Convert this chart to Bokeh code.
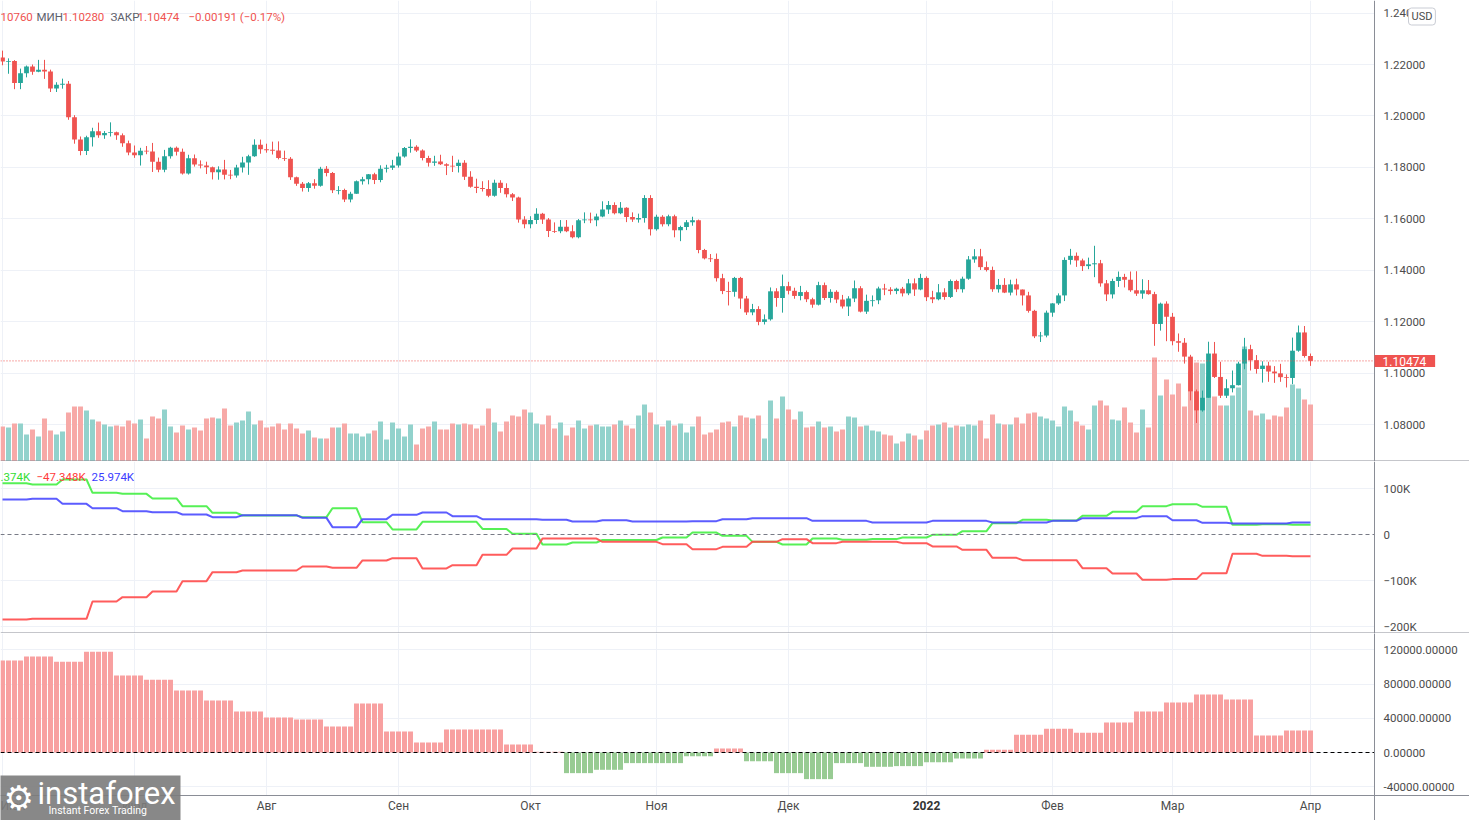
from bokeh.plotting import figure
from bokeh.layouts import column
from bokeh.models import Range1d, FixedTicker, Span, Label, BoxAnnotation
from bokeh.embed import file_html
from bokeh.resources import INLINE

# ---------------- DATA (daily EURUSD, 2021-06-01 .. 2022-04-01) ----------------
first_open = 1.2227
closes = [
1.2212, 1.2214, 1.2128, 1.2166, 1.2192, 1.2172, 1.2180, 1.2173, 1.2107, 1.2121,
1.2125, 1.1995, 1.1908, 1.1864, 1.1917, 1.1940, 1.1925, 1.1934, 1.1937, 1.1925,
1.1894, 1.1858, 1.1847, 1.1865, 1.1862, 1.1822, 1.1791, 1.1843, 1.1876, 1.1861,
1.1776, 1.1835, 1.1811, 1.1807, 1.1800, 1.1781, 1.1792, 1.1771, 1.1768, 1.1799,
1.1819, 1.1843, 1.1888, 1.1870, 1.1868, 1.1866, 1.1836, 1.1833, 1.1762, 1.1736,
1.1720, 1.1738, 1.1728, 1.1795, 1.1778, 1.1711, 1.1712, 1.1675, 1.1697, 1.1746,
1.1754, 1.1773, 1.1751, 1.1795, 1.1798, 1.1807, 1.1842, 1.1875, 1.1880, 1.1866,
1.1836, 1.1818, 1.1823, 1.1812, 1.1806, 1.1805, 1.1818, 1.1763, 1.1725, 1.1720,
1.1716, 1.1690, 1.1740, 1.1720, 1.1695, 1.1683, 1.1597, 1.1579, 1.1595, 1.1620,
1.1597, 1.1553, 1.1552, 1.1569, 1.1552, 1.1528, 1.1594, 1.1597, 1.1594, 1.1609,
1.1636, 1.1654, 1.1622, 1.1643, 1.1607, 1.1597, 1.1603, 1.1681, 1.1559, 1.1608,
1.1579, 1.1610, 1.1555, 1.1568, 1.1587, 1.1594, 1.1479, 1.1446, 1.1444, 1.1369,
1.1319, 1.1316, 1.1370, 1.1290, 1.1236, 1.1249, 1.1199, 1.1209, 1.1318, 1.1292,
1.1338, 1.1320, 1.1300, 1.1315, 1.1287, 1.1266, 1.1342, 1.1292, 1.1316, 1.1286,
1.1259, 1.1290, 1.1330, 1.1239, 1.1281, 1.1283, 1.1329, 1.1325, 1.1319, 1.1328,
1.1310, 1.1349, 1.1325, 1.1370, 1.1295, 1.1287, 1.1314, 1.1296, 1.1358, 1.1326,
1.1367, 1.1442, 1.1454, 1.1412, 1.1401, 1.1326, 1.1343, 1.1313, 1.1345, 1.1325,
1.1302, 1.1242, 1.1143, 1.1146, 1.1235, 1.1271, 1.1302, 1.1440, 1.1456, 1.1438,
1.1416, 1.1423, 1.1427, 1.1349, 1.1306, 1.1358, 1.1374, 1.1363, 1.1322, 1.1309,
1.1322, 1.1307, 1.1191, 1.1270, 1.1219, 1.1124, 1.1118, 1.1064, 1.0929, 1.0855,
1.0904, 1.1076, 1.0985, 1.0912, 1.0941, 1.0953, 1.1037, 1.1093, 1.1050, 1.1016,
1.1029, 1.1006, 1.0999, 1.0984, 1.0981, 1.1087, 1.1158, 1.10665, 1.10474]

highs = [
1.2254, 1.2224, 1.2217, 1.2184, 1.2196, 1.2200, 1.2218, 1.2218, 1.2180, 1.2131,
1.2145, 1.2136, 1.2003, 1.1920, 1.1923, 1.1954, 1.1974, 1.1941, 1.1975, 1.1939,
1.1932, 1.1904, 1.1885, 1.1876, 1.1883, 1.1895, 1.1838, 1.1868, 1.1880, 1.1881,
1.1873, 1.1849, 1.1850, 1.1827, 1.1822, 1.1803, 1.1804, 1.1829, 1.1790, 1.1810,
1.1841, 1.1849, 1.1909, 1.1908, 1.1892, 1.1900, 1.1901, 1.1865, 1.1840, 1.1764,
1.1743, 1.1743, 1.1754, 1.1802, 1.1805, 1.1782, 1.1727, 1.1717, 1.1705, 1.1749,
1.1763, 1.1774, 1.1779, 1.1808, 1.1810, 1.1829, 1.1857, 1.1879, 1.1909, 1.1886,
1.1870, 1.1845, 1.1845, 1.1849, 1.1816, 1.1845, 1.1830, 1.1828, 1.1785, 1.1756,
1.1746, 1.1750, 1.1752, 1.1750, 1.1738, 1.1700, 1.1686, 1.1610, 1.1610, 1.1641,
1.1623, 1.1603, 1.1586, 1.1595, 1.1595, 1.1575, 1.1599, 1.1625, 1.1624, 1.1620,
1.1668, 1.1669, 1.1664, 1.1665, 1.1645, 1.1625, 1.1620, 1.1692, 1.1692, 1.1616,
1.1614, 1.1616, 1.1616, 1.1573, 1.1595, 1.1608, 1.1597, 1.1483, 1.1463, 1.1465,
1.1386, 1.1355, 1.1374, 1.1374, 1.1300, 1.1269, 1.1260, 1.1228, 1.1333, 1.1330,
1.1383, 1.1355, 1.1332, 1.1339, 1.1321, 1.1293, 1.1355, 1.1352, 1.1326, 1.1322,
1.1304, 1.1299, 1.1360, 1.1338, 1.1305, 1.1302, 1.1336, 1.1347, 1.1334, 1.1332,
1.1335, 1.1366, 1.1368, 1.1386, 1.1376, 1.1320, 1.1346, 1.1330, 1.1364, 1.1363,
1.1375, 1.1455, 1.1482, 1.1483, 1.1434, 1.1414, 1.1366, 1.1369, 1.1363, 1.1367,
1.1325, 1.1316, 1.1246, 1.1160, 1.1243, 1.1272, 1.1310, 1.1450, 1.1483, 1.1469,
1.1445, 1.1449, 1.1495, 1.1440, 1.1362, 1.1367, 1.1395, 1.1386, 1.1395, 1.1396,
1.1365, 1.1362, 1.1316, 1.1274, 1.1279, 1.1234, 1.1154, 1.1136, 1.1071, 1.0936,
1.0932, 1.1122, 1.1121, 1.1044, 1.0976, 1.1010, 1.1044, 1.1137, 1.1110, 1.1070,
1.1046, 1.1044, 1.1027, 1.1036, 1.0995, 1.1138, 1.1185, 1.1183, 1.10760]

lows = [
1.2197, 1.2164, 1.2104, 1.2104, 1.2150, 1.2160, 1.2170, 1.2144, 1.2093, 1.2093,
1.2106, 1.1985, 1.1892, 1.1847, 1.1848, 1.1881, 1.1915, 1.1911, 1.1920, 1.1907,
1.1880, 1.1847, 1.1837, 1.1807, 1.1851, 1.1782, 1.1781, 1.1781, 1.1834, 1.1846,
1.1772, 1.1772, 1.1803, 1.1796, 1.1774, 1.1753, 1.1752, 1.1753, 1.1754, 1.1760,
1.1780, 1.1771, 1.1841, 1.1853, 1.1857, 1.1850, 1.1831, 1.1825, 1.1751, 1.1728,
1.1706, 1.1705, 1.1717, 1.1725, 1.1765, 1.1700, 1.1695, 1.1665, 1.1664, 1.1697,
1.1733, 1.1734, 1.1735, 1.1742, 1.1780, 1.1790, 1.1799, 1.1838, 1.1857, 1.1860,
1.1827, 1.1803, 1.1806, 1.1809, 1.1770, 1.1782, 1.1780, 1.1751, 1.1721, 1.1700,
1.1706, 1.1684, 1.1686, 1.1701, 1.1683, 1.1669, 1.1585, 1.1563, 1.1563, 1.1580,
1.1580, 1.1529, 1.1545, 1.1544, 1.1548, 1.1524, 1.1524, 1.1583, 1.1583, 1.1571,
1.1606, 1.1619, 1.1617, 1.1618, 1.1587, 1.1588, 1.1585, 1.1585, 1.1535, 1.1554,
1.1570, 1.1571, 1.1528, 1.1513, 1.1556, 1.1573, 1.1466, 1.1442, 1.1432, 1.1356,
1.1307, 1.1263, 1.1297, 1.1250, 1.1226, 1.1225, 1.1186, 1.1189, 1.1204, 1.1258,
1.1235, 1.1306, 1.1289, 1.1283, 1.1276, 1.1254, 1.1263, 1.1284, 1.1274, 1.1272,
1.1251, 1.1222, 1.1276, 1.1236, 1.1230, 1.1259, 1.1268, 1.1303, 1.1305, 1.1307,
1.1298, 1.1303, 1.1300, 1.1322, 1.1280, 1.1272, 1.1283, 1.1285, 1.1292, 1.1315,
1.1313, 1.1363, 1.1429, 1.1401, 1.1395, 1.1316, 1.1313, 1.1311, 1.1302, 1.1302,
1.1263, 1.1235, 1.1136, 1.1121, 1.1139, 1.1219, 1.1265, 1.1280, 1.1422, 1.1413,
1.1397, 1.1404, 1.1373, 1.1336, 1.1280, 1.1290, 1.1335, 1.1333, 1.1316, 1.1300,
1.1289, 1.1305, 1.1106, 1.1165, 1.1124, 1.1108, 1.1083, 1.1037, 1.0894, 1.0806,
1.0850, 1.0905, 1.0981, 1.0903, 1.0903, 1.0925, 1.0952, 1.1015, 1.1010, 1.0998,
1.0963, 1.0966, 1.0962, 1.0966, 1.0944, 1.0957, 1.1083, 1.1060, 1.10280]

volumes = [
35, 34, 38, 38, 27, 32, 25, 43, 31, 27, 30, 49, 55, 55, 51, 42, 40, 37, 35, 36,
35, 41, 38, 42, 23, 45, 43, 52, 35, 29, 36, 32, 34, 31, 43, 44, 43, 53, 36, 39,
41, 50, 37, 41, 34, 35, 38, 32, 38, 33, 28, 31, 24, 23, 23, 34, 34, 38, 28, 28,
25, 28, 31, 40, 22, 39, 33, 25, 37, 17, 33, 35, 40, 32, 32, 38, 37, 38, 37, 33,
36, 53, 39, 30, 40, 46, 45, 52, 49, 38, 37, 46, 33, 39, 26, 34, 41, 33, 36, 37,
35, 35, 37, 41, 36, 33, 46, 57, 49, 37, 35, 41, 36, 38, 29, 35, 45, 27, 29, 32,
39, 40, 35, 46, 44, 43, 46, 23, 61, 43, 65, 52, 42, 50, 34, 35, 40, 34, 35, 30,
32, 45, 44, 35, 36, 31, 30, 27, 26, 18, 20, 28, 26, 22, 31, 36, 37, 39, 34, 36,
35, 37, 36, 41, 23, 47, 38, 37, 37, 44, 38, 48, 49, 45, 43, 41, 35, 55, 51, 40,
36, 32, 56, 61, 56, 42, 41, 54, 39, 29, 52, 34, 104, 66, 82, 67, 78, 55, 90, 99,
98, 85, 65, 56, 56, 66, 74, 115, 51, 46, 48, 42, 46, 45, 54, 77, 73, 62, 57]

# weekly net positions (thousands of contracts), one value per week
green_net = [111.6, 108.7, 119.6, 90.6, 88.4, 78.3, 61.6, 47.1, 41.3, 41.3, 37.7, 57.2,
             26.8, 10.9, 27.5, 27.5, 12.0, 1.5, -21.7, -17.4, -12.0, -12.0, -6.5, 4.3,
             -2.9, -16.0, -21.7, -8.7, -11.6, -10.0, -6.5, -0.7, 7.2, 24.6, 31.9, 30.4,
             40.6, 49.3, 61.6, 65.9, 60.1, 21.0, 22.5, 21.374]
red_net = [-184.8, -183.3, -183.3, -145.7, -136.2, -123.9, -101.4, -81.9, -78.3, -78.3,
           -69.6, -72.5, -56.5, -51.4, -73.9, -66.7, -44.2, -30.4, -8.7, -8.7, -15.9,
           -15.9, -21.0, -31.9, -26.8, -15.9, -10.1, -18.8, -15.9, -15.9, -18.8, -26.0,
           -33.3, -50.7, -55.8, -55.8, -73.2, -84.8, -98.5, -97.0, -84.0, -42.0, -46.4,
           -47.348]
blue_net = [76.1, 77.5, 66.7, 57.2, 50.7, 48.6, 43.5, 37.7, 42.0, 42.0, 36.2, 16.0,
            33.3, 42.8, 47.8, 39.9, 33.3, 33.3, 31.9, 28.3, 31.0, 28.3, 28.3, 29.0, 33.3,
            35.5, 35.5, 29.7, 29.7, 26.0, 26.0, 29.7, 29.7, 26.0, 26.0, 29.7, 35.5, 35.5,
            39.9, 31.0, 25.4, 24.0, 24.0, 25.974]
hist_net = [107.3, 112.0, 106.0, 117.8, 89.8, 85.1, 72.3, 60.6, 47.8, 40.8, 38.5, 30.3,
            57.1, 24.5, 11.7, 26.8, 26.8, 9.3, 1.0, -24.1, -20.2, -12.4, -12.4, -4.5, 4.6,
            -10.1, -24.1, -31.1, -12.4, -16.7, -15.9, -11.3, -7.0, 3.1, 20.6, 27.6, 23.0,
            35.0, 47.8, 58.3, 67.6, 61.8, 19.8, 25.7]

month_ticks = [0, 22, 44, 66, 88, 109, 131, 154, 175, 195, 218]
month_labels = ["Июн", "Июл", "Авг", "Сен", "Окт", "Ноя", "Дек", "2022", "Фев", "Мар", "Апр"]
price_ticks = [1.08, 1.10, 1.12, 1.14, 1.16, 1.18, 1.20, 1.22, 1.24]
cot_ticks = [-200000, -100000, 0, 100000]
cot_labels = ["\u2212200K", "\u2212100K", "0", "100K"]
hist_ticks = [-40000, 0, 40000, 80000, 120000]

# ---------------- derived ----------------
N = len(closes)
idx = list(range(N))
opens = [first_open] + closes[:-1]
is_up = [c >= o for o, c in zip(opens, closes)]
UP, DN = "#26a69a", "#ef5350"
ccol = [UP if u else DN for u in is_up]
vcol = ["#92d2cc" if u else "#f7a9a7" for u in is_up]
hi = [max(h, o, c) for h, o, c in zip(highs, opens, closes)]
lo = [min(l, o, c) for l, o, c in zip(lows, opens, closes)]
btop = [max(o, c) for o, c in zip(opens, closes)]
bbot = [min(o, c) if abs(o - c) > 0.0003 else max(o, c) - 0.0003 for o, c in zip(opens, closes)]

g_d = [green_net[i // 5] * 1000 for i in idx]
r_d = [red_net[i // 5] * 1000 for i in idx]
b_d = [blue_net[i // 5] * 1000 for i in idx]
h_d = [hist_net[(i + 1) // 5] * 1000 for i in idx]
h_col = ["#f8a0a0" if v >= 0 else "#98cb93" for v in h_d]

# ---------------- layout helpers (page pixel -> data) ----------------
def xb(px):
    return (px - 2) / 6.0

def y1(py):
    return 1.22 - (py - 64) * 0.02 / 51.43

def y2(py):
    return (534 - py) / 46.0 * 1e5

def y3(py):
    return (752 - py) / 34.25 * 4e4

W = 1469
AXL = 1374          # price-scale separator
FONT = "Roboto"
TXT = "#4c4c4c"
GRID = "#eef1f7"
SEP = "#8a8d96"

xr = Range1d(xb(0), xb(W))

def base(height, yr, yticks):
    p = figure(width=W, height=height, x_range=xr, y_range=yr, output_backend="svg",
               toolbar_location=None, x_axis_location=None, y_axis_location=None,
               min_border_left=0, min_border_right=0, min_border_top=0, min_border_bottom=0)
    p.outline_line_color = None
    p.xgrid.ticker = FixedTicker(ticks=month_ticks)
    p.xgrid.grid_line_color = GRID
    p.ygrid.ticker = FixedTicker(ticks=yticks)
    p.ygrid.grid_line_color = GRID
    return p

def price_scale(p, yr_lo, yr_hi, ticks, labels):
    # white price-scale strip, separator line and tick texts
    p.add_layout(BoxAnnotation(left=xb(AXL + 0.5), right=xb(W + 2), bottom=yr_lo, top=yr_hi,
                               fill_color="white", fill_alpha=1.0, line_color=None))
    p.add_layout(Span(location=xb(AXL), dimension="height", line_color=SEP, line_width=1))
    for t, l in zip(ticks, labels):
        p.add_layout(Label(x=xb(AXL + 9), y=t, text=l, text_font=FONT, text_font_size="11.5px",
                           text_color=TXT, text_baseline="middle", text_align="left"))

# ---------------- top panel: price + volume ----------------
yr1 = Range1d(y1(461), y1(0))
p1 = base(461, yr1, price_ticks)
p1.extra_y_ranges = {"vol": Range1d(0, 461)}
p1.vbar(x=idx, top=volumes, bottom=0, width=0.83, fill_color=vcol, line_color=None, y_range_name="vol")
p1.segment(x0=idx, y0=hi, x1=idx, y1=lo, line_color=ccol, line_width=1)
p1.vbar(x=idx, top=btop, bottom=bbot, width=0.8, fill_color=ccol, line_color=None)
p1.add_layout(Span(location=closes[-1], dimension="width", line_color=DN, line_dash="1 2", line_width=1))
price_scale(p1, y1(470), y1(-10), price_ticks, ["%.5f" % t for t in price_ticks])
p1.add_layout(Span(location=y1(460.5), dimension="width", line_color=SEP, line_width=1))

hdr = [(0, "10760", DN), (36, "МИН", "#5d606b"), (62, "1.10280", DN), (110, "ЗАКР", "#5d606b"),
       (137, "1.10474", DN), (188, "\u22120.00191 (\u22120.17%)", DN)]
for px, t, c in hdr:
    p1.add_layout(Label(x=xb(px), y=y1(16), text=t, text_color=c, text_font=FONT,
                        text_font_size="11.5px", text_baseline="middle", text_align="left"))
p1.add_layout(Label(x=xb(AXL), y=closes[-1], text="1.10474", text_color="white", text_font=FONT,
                    text_font_size="12px", text_baseline="middle", text_align="left",
                    background_fill_color=DN,
                    padding=dict(left=8, right=9, top=2, bottom=1)))
p1.add_layout(Label(x=xb(1408), y=y1(16), text="USD", text_color="#4c4c4c", text_font=FONT,
                    text_font_size="11px", text_baseline="middle", text_align="left",
                    background_fill_color="white", border_line_color="#c9ccd4", border_radius=3,
                    padding=dict(left=3, right=3, top=2, bottom=2)))

# ---------------- middle panel: COT net positions ----------------
yr2 = Range1d(y2(633), y2(461))
p2 = base(172, yr2, [-200000, -100000, 100000])
p2.add_layout(Span(location=0, dimension="width", line_color="#787b86", line_dash="4 3", line_width=1))
p2.line(idx, g_d, line_color="#44ee44", line_width=2, line_alpha=0.9)
p2.line(idx, r_d, line_color="#ff4a4a", line_width=2, line_alpha=0.9)
p2.line(idx, b_d, line_color="#4a4aff", line_width=2, line_alpha=0.9)
price_scale(p2, y2(640), y2(455), cot_ticks, cot_labels)
p2.add_layout(Span(location=y2(632.5), dimension="width", line_color=SEP, line_width=1))
for px, t, c in [(0, ".374K", "#33dd33"), (36, "\u221247.348K", "#ff3b3b"), (91, "25.974K", "#3b3bff")]:
    p2.add_layout(Label(x=xb(px), y=y2(476), text=t, text_color=c, text_font=FONT,
                        text_font_size="11.5px", text_baseline="middle", text_align="left"))

# ---------------- bottom panel: histogram + date scale ----------------
yr3 = Range1d(y3(820), y3(633))
p3 = base(187, yr3, hist_ticks)
p3.vbar(x=idx, top=h_d, bottom=0, width=0.83, fill_color=h_col, line_color=None)
p3.add_layout(Span(location=0, dimension="width", line_color="black", line_dash="4 3", line_width=1.2))
price_scale(p3, y3(830), y3(625), hist_ticks, ["%.5f" % t for t in hist_ticks])
# date scale strip
p3.add_layout(BoxAnnotation(left=xb(-5), right=xb(W + 2), bottom=y3(830), top=y3(795.5),
                            fill_color="white", fill_alpha=1.0, line_color=None))
p3.add_layout(Span(location=y3(795), dimension="width", line_color=SEP, line_width=1))
p3.add_layout(Span(location=xb(AXL), dimension="height", line_color=SEP, line_width=1))
for t, l in zip(month_ticks, month_labels):
    bold = (l == "2022")
    first = (t == month_ticks[0])
    p3.add_layout(Label(x=(xb(0) if first else t), y=y3(805), text=l, text_font=FONT,
                        text_font_size="12px", text_font_style=("bold" if bold else "normal"),
                        text_color=("#333333" if bold else TXT),
                        text_align=("left" if first else "center"), text_baseline="middle"))
# watermark logo
p3.add_layout(BoxAnnotation(left=xb(-2), right=xb(180), top=y3(775), bottom=y3(824),
                            fill_color="#7b7b7b", fill_alpha=0.9, line_color=None, level="overlay"))
p3.add_layout(Label(x=xb(3), y=y3(797), text="\u2699", text_font="DejaVu Sans", text_font_size="34px",
                    text_color="white", text_baseline="middle", text_align="left", level="overlay"))
p3.add_layout(Label(x=xb(37), y=y3(793), text="instaforex", text_font=FONT, text_font_size="31px",
                    text_color="white", text_baseline="middle", text_align="left", level="overlay"))
p3.add_layout(Label(x=xb(48), y=y3(810), text="Instant Forex Trading", text_font=FONT,
                    text_font_size="10.5px", text_color="white", text_baseline="middle",
                    text_align="left", level="overlay"))

layout = column(p1, p2, p3, spacing=0)
open("out.html", "w").write(file_html(layout, INLINE))
